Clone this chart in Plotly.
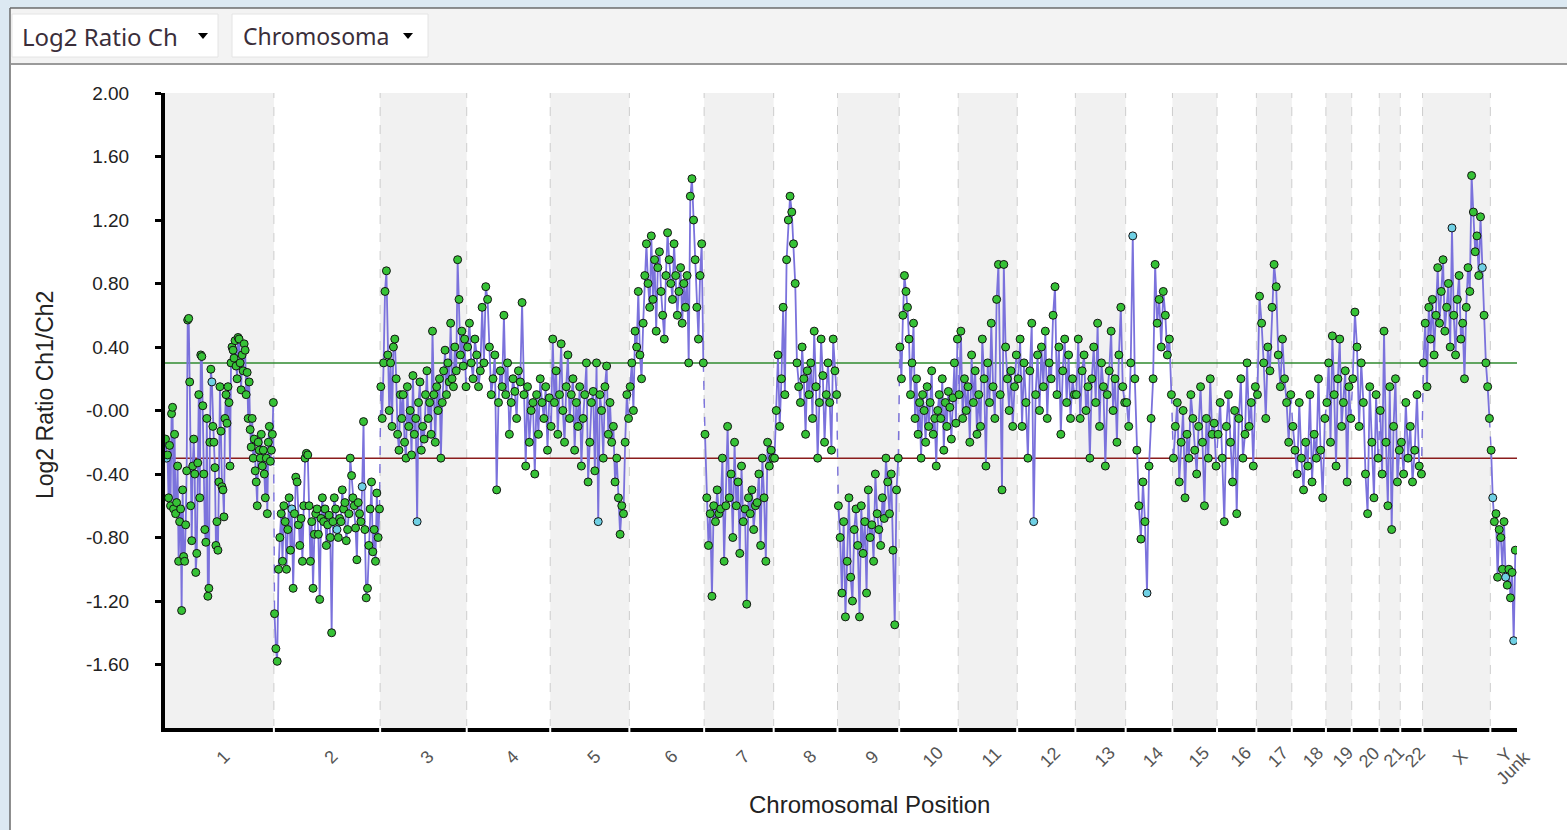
import plotly.graph_objects as go

# ---------------- data ----------------
chrom_labels = ["1", "2", "3", "4", "5", "6", "7", "8", "9", "10", "11", "12",
                "13", "14", "15", "16", "17", "18", "19", "20", "21", "22", "X", "Y"]
chrom_sizes_mb = [249, 243, 198, 191, 181, 171, 159, 146, 141, 135, 135, 133,
                  115, 107, 102, 90, 81, 78, 59, 63, 48, 51, 155, 59]
junk_label = "Junk"
junk_size_mb = 2

log2_chr1 = [-0.18, -0.30, -0.28, -0.55, -0.22, -0.60, -0.02, 0.02, -0.62, -0.15, -0.65, -0.58,
             -0.35, -0.95, -0.70, -0.62, -1.26, -0.50, -0.92, -0.95, -0.72,
             -0.38, 0.57, 0.58, 0.18, -0.60, -0.82, -0.35, -0.18, -0.40, -1.02, -0.90, -0.33,
             0.10, -0.55,
             0.35, 0.34, 0.03, -0.40, -0.75, -0.83, -0.05, -1.17, -1.12, -0.20, 0.26, 0.18,
             -0.10, -0.20, -0.36, -0.85, -0.70, -0.88, -0.45,
             0.15, -0.13, -0.48, -0.50, -0.67, -0.05, 0.10, -0.08, 0.15, 0.05, -0.35,
             0.30, 0.40, 0.38, 0.33, 0.44, 0.28, 0.20, 0.46, 0.45, 0.30, 0.13, 0.35, 0.25, 0.42,
             0.38, 0.10, 0.24,
             -0.05, 0.18, -0.12, -0.23, -0.05, -0.30, -0.18, -0.38, -0.45, -0.60, -0.20, -0.25,
             -0.30, -0.15, -0.35, -0.25, -0.40, -0.55, -0.30, -0.65, -0.20, -0.10, -0.32, -0.25,
             -0.15, 0.05]
log2_chr2 = [-1.28, -1.50, -1.58, -1.00, -0.80, -0.65, -0.95, -0.60, -0.70, -1.00, -0.75, -0.55,
             -0.88, -0.62, -1.12, -0.65, -0.42, -0.45, -0.72, -0.85, -0.68, -0.95, -0.60, -0.30,
             -0.27, -0.28, -0.60, -0.95, -0.70, -1.12, -0.78, -0.65, -0.62, -0.78, -1.19, -0.68,
             -0.55, -0.70, -0.62, -0.85, -0.72, -0.66, -0.80, -1.40, -0.70, -0.55, -0.62, -0.75,
             -0.80, -0.68, -0.70, -0.50, -0.62, -0.58, -0.82, -0.75, -0.65, -0.30, -0.41, -0.55,
             -0.60, -0.74, -0.94, -0.58, -0.65, -0.70, -0.48, -0.07, -0.75, -1.18, -1.12, -0.85,
             -0.62, -0.45, -0.89, -0.75, -0.95, -0.52, -0.80, -0.62]
log2_chr3 = [0.15, -0.05, 0.30, 0.75, 0.88, 0.35, 0.00, 0.30, -0.10, 0.40, 0.45, 0.20, -0.15,
             -0.25, 0.10, -0.05, 0.10, -0.20, -0.30, 0.15, -0.10, 0.00, -0.28, 0.22, -0.15,
             -0.05, -0.70, 0.05, 0.18, -0.25, -0.10, -0.18, 0.10, 0.25, -0.05, 0.05, -0.15, 0.50,
             0.10, -0.20, 0.15, 0.00, 0.20, -0.30, 0.05, 0.25, 0.38, 0.10, 0.30, 0.18, 0.55,
             0.20, 0.15, 0.40, 0.25, 0.95, 0.70, 0.35, 0.50, 0.28, 0.45, 0.15]
log2_chr4 = [0.40, 0.55, 0.30, 0.20, 0.45, 0.35, 0.15, 0.25, 0.65, 0.30, 0.78, 0.70, 0.40, 0.10,
             0.20, 0.35, -0.50, 0.05, 0.25, 0.15, 0.60, 0.10, 0.30, -0.15, 0.05, 0.20, 0.12,
             -0.05, 0.25, 0.18, 0.68, 0.10, -0.35, 0.15, -0.20, 0.00, 0.05, -0.40, 0.10, -0.15,
             0.20, 0.05, -0.05, 0.15, -0.25, 0.08]
log2_chr5 = [-0.10, 0.45, 0.05, 0.25, -0.15, 0.10, 0.42, 0.00, -0.20, 0.15, 0.35, -0.05, 0.10,
             0.20, -0.25, 0.05, -0.10, 0.15, -0.35, -0.05, 0.10, 0.30, -0.45, -0.20, 0.05, 0.12,
             -0.38, 0.30, -0.70, 0.10, 0.00, -0.30, 0.15, 0.28, -0.15, 0.05, -0.20, -0.10,
             -0.45, -0.30, -0.55, -0.78, -0.60, -0.65, -0.20, 0.10, -0.05]
log2_chr6 = [0.15, 0.30, 0.00, 0.50, 0.40, 0.75, 0.35, 0.20, 0.55, 0.85, 1.05, 0.80, 0.65, 1.10,
             0.70, 0.95, 0.50, 0.90, 1.00, 0.75, 0.60, 0.45, 0.85, 1.12, 0.95, 0.80, 0.70, 1.05,
             0.85, 0.60, 0.75, 0.90, 0.55, 0.80, 0.65, 0.85, 0.30, 1.35, 1.46, 1.20, 0.95, 0.65,
             0.45, 0.85, 1.05, 0.30]
log2_chr7 = [-0.15, -0.55, -0.85, -0.65, -1.17, -0.60, -0.70, -0.50, -0.65, -0.62, -0.30, -0.95,
             -0.60, -0.10, -0.55, -0.40, -0.80, -0.20, -0.60, -0.45, -0.90, -0.35, -0.70, -0.62,
             -1.22, -0.55, -0.65, -0.50, -0.75, -0.60, -0.58, -0.40, -0.85, -0.30, -0.55, -0.95,
             -0.20, -0.35, -0.25, -0.30]
log2_chr8 = [-0.30, 0.00, 0.35, -0.10, 0.20, 0.65, 0.10, 0.95, 1.20, 1.35, 1.25, 1.05, 0.80,
             0.30, 0.15, 0.05, 0.40, 0.20, -0.15, 0.25, 0.10, 0.30, -0.05, 0.50, 0.15, -0.30,
             0.05, 0.45, 0.22, -0.20, 0.10, 0.30, 0.05, -0.25, 0.45, 0.25, 0.10]
log2_chr9 = [-0.60, -0.80, -1.15, -0.70, -1.30, -0.95, -0.55, -1.05, -1.20, -0.75, -0.62, -0.85,
             -1.30, -0.60, -0.90, -0.70, -1.15, -0.50, -0.80, -0.72, -0.95, -0.40, -0.65, -0.75,
             -0.85, -0.55, -0.68, -0.30, -0.45, -0.65, -0.40, -0.88, -1.35, -0.50, -0.30]
log2_chr10 = [0.40, 0.20, 0.60, 0.85, 0.75, 0.65, 0.45, 0.10, 0.30, 0.55, -0.05, 0.20, -0.15,
              0.05, -0.30, 0.10, 0.00, -0.20, 0.15, -0.10, 0.05, 0.25, -0.15, -0.05, -0.35,
              0.00, 0.10, -0.05, 0.20, -0.25, 0.05, -0.10, 0.12, 0.02, -0.18, 0.08, 0.30,
              -0.08, 0.45]
log2_chr11 = [0.10, 0.50, -0.05, 0.20, 0.00, 0.15, -0.20, 0.35, 0.05, 0.25, -0.15, 0.10, -0.10,
              0.45, 0.20, -0.35, 0.30, 0.05, 0.55, 0.15, -0.05, 0.70, 0.92, 0.10, -0.50, 0.92,
              0.40, 0.20, 0.00, 0.25, -0.10, 0.15, 0.35]
log2_chr12 = [0.20, 0.45, -0.10, 0.30, 0.05, -0.30, 0.25, 0.55, -0.70, 0.10, 0.35, 0.00, 0.40,
              0.15, 0.50, -0.05, 0.30, 0.20, 0.60, 0.78, 0.10, 0.40, -0.15, 0.25, 0.45, 0.05,
              0.35, -0.05, 0.20, 0.10]
log2_chr13 = [0.10, 0.45, -0.05, 0.25, 0.35, 0.00, 0.15, -0.30, 0.20, 0.40, 0.05, 0.55, -0.10,
              0.30, 0.15, -0.35, 0.10, 0.25, 0.50, 0.00, 0.20, -0.20, 0.35, 0.65, 0.15, 0.05]
log2_chr14 = [0.05, -0.10, 0.30, 1.10, 0.20, -0.25, -0.60, -0.81, -0.45, -0.70, -1.15, -0.35,
              -0.05, 0.20, 0.92, 0.55, 0.70, 0.40, 0.75, 0.60, 0.35, 0.45, 0.10]
log2_chr15 = [-0.30, -0.10, 0.05, -0.45, -0.20, 0.00, -0.55, -0.15, -0.30, 0.10, -0.05, -0.25,
              -0.40, -0.10, 0.15, -0.20, -0.60, -0.05, -0.30, 0.20, -0.15, -0.08, -0.35]
log2_chr16 = [-0.15, 0.05, -0.30, -0.70, -0.10, 0.10, -0.20, -0.45, 0.00, -0.65, -0.05, 0.20,
              -0.30, -0.15, 0.30, -0.10, 0.05, -0.35, 0.15]
log2_chr17 = [0.10, 0.72, 0.55, 0.30, -0.05, 0.40, 0.25, 0.65, 0.92, 0.78, 0.35, 0.15, 0.45,
              0.20, 0.05, -0.20, 0.10]
log2_chr18 = [-0.10, -0.25, -0.40, 0.05, -0.30, -0.50, -0.20, -0.35, 0.10, -0.45, -0.15, -0.30,
              0.20, -0.25, -0.55, -0.05]
log2_chr19 = [0.05, 0.30, -0.20, 0.47, 0.10, -0.35, 0.20, 0.45, -0.10, 0.05, 0.25, -0.45, 0.15,
              -0.05]
log2_chr20 = [0.20, 0.62, 0.40, -0.10, 0.30, 0.05, -0.40, -0.65, 0.15, -0.20, -0.55, 0.10, -0.30]
log2_chr21 = [0.00, -0.40, 0.50, -0.20, -0.60, 0.15, -0.75, -0.10, 0.20, -0.45, -0.25]
log2_chr22 = [-0.20, -0.40, 0.05, -0.30, -0.10, -0.45, -0.25, 0.10, -0.35, -0.40]
log2_chrX = [0.30, 0.55, 0.15, 0.65, 0.45, 0.70, 0.35, 0.60, 0.90, 0.55, 0.75, 0.95, 0.50, 0.65,
             0.80, 0.40, 1.15, 0.60, 0.35, 0.70, 0.85, 0.45, 0.55, 0.20, 0.65, 0.90, 0.75, 1.48,
             1.25, 1.00, 1.10, 0.85, 1.22, 0.90, 0.60, 0.30, 0.15, -0.05]
log2_chrY = [-0.25, -0.55, -0.70, -0.65, -1.05, -0.75, -0.80, -1.00, -0.70, -1.05, -1.10, -1.00,
             -1.18, -1.02, -1.45, -0.88]

log2_by_chrom = [log2_chr1, log2_chr2, log2_chr3, log2_chr4, log2_chr5, log2_chr6, log2_chr7,
                 log2_chr8, log2_chr9, log2_chr10, log2_chr11, log2_chr12, log2_chr13,
                 log2_chr14, log2_chr15, log2_chr16, log2_chr17, log2_chr18, log2_chr19,
                 log2_chr20, log2_chr21, log2_chr22, log2_chrX, log2_chrY]

# indices of probes drawn in cyan instead of green
cyan_points = [[1, 46, 117], [13, 47, 66], [26], [], [28], [], [40], [], [], [], [], [8], [],
               [3, 10], [], [], [], [], [], [], [], [], [16, 33], [1, 9, 14]]

gain_threshold = 0.3
loss_threshold = -0.3

y_tick_vals = [2.0, 1.6, 1.2, 0.8, 0.4, 0.0, -0.4, -0.8, -1.2, -1.6]
y_tick_text = ["2.00", "1.60", "1.20", "0.80", "0.40", "-0.00", "-0.40", "-0.80", "-1.20", "-1.60"]

# ---------------- geometry helpers (pixel layout of the window) ----------------
W, H = 1567, 830
L, R, T, B = 165, 1517, 93, 728


def px(x):
    return (x - L) / (R - L)


def py(y):
    return (B - y) / (B - T)


# ---------------- build traces ----------------
offsets = []
acc = 0
for s in chrom_sizes_mb:
    offsets.append(acc)
    acc += s
genome_end = acc + junk_size_mb

line_x, line_y = [], []
mk_x, mk_y, mk_c = [], [], []
conn_x, conn_y = [], []
prev_last = None
for ci, vals in enumerate(log2_by_chrom):
    n = len(vals)
    xs = [offsets[ci] + (j + 0.5) / n * chrom_sizes_mb[ci] for j in range(n)]
    line_x += xs + [None]
    line_y += vals + [None]
    mk_x += xs
    mk_y += vals
    mk_c += ["#6fd0e4" if j in cyan_points[ci] else "#36c236" for j in range(n)]
    if prev_last is not None:
        conn_x += [prev_last[0], xs[0], None]
        conn_y += [prev_last[1], vals[0], None]
    prev_last = (xs[-1], vals[-1])

fig = go.Figure()
fig.add_trace(go.Scatter(x=line_x, y=line_y, mode="lines",
                         line=dict(color="#7b72dc", width=1.8), hoverinfo="skip",
                         showlegend=False))
fig.add_trace(go.Scatter(x=conn_x, y=conn_y, mode="lines",
                         line=dict(color="#7b72dc", width=1.4, dash="dash"), hoverinfo="skip",
                         showlegend=False))
fig.add_trace(go.Scatter(x=mk_x, y=mk_y, mode="markers",
                         marker=dict(size=8, color=mk_c, line=dict(color="#141414", width=1)),
                         showlegend=False))

shapes = []
# window chrome
shapes.append(dict(type="rect", xref="paper", yref="paper", x0=px(10), x1=px(W + 10),
                   y0=py(H + 10), y1=py(8), fillcolor="white", line=dict(width=0), layer="below"))
shapes.append(dict(type="rect", xref="paper", yref="paper", x0=px(11), x1=px(W + 10),
                   y0=py(64), y1=py(9), fillcolor="#f3f3f3", line=dict(width=0), layer="below"))
shapes.append(dict(type="line", xref="paper", yref="paper", x0=px(11), x1=px(W + 10),
                   y0=py(64), y1=py(64), line=dict(color="#9a9a9a", width=2), layer="below"))
shapes.append(dict(type="line", xref="paper", yref="paper", x0=px(10), x1=px(10),
                   y0=py(H + 10), y1=py(8), line=dict(color="#6a6a6a", width=1.5), layer="below"))
shapes.append(dict(type="line", xref="paper", yref="paper", x0=px(10), x1=px(W + 10),
                   y0=py(8), y1=py(8), line=dict(color="#6a6a6a", width=1.5), layer="below"))
for bx0, bx1 in [(12, 218), (232, 428)]:
    shapes.append(dict(type="rect", xref="paper", yref="paper", x0=px(bx0), x1=px(bx1),
                       y0=py(57), y1=py(14), fillcolor="white",
                       line=dict(color="#e4e4e4", width=1), layer="below"))
for ax in [203, 408]:
    shapes.append(dict(type="path", xref="paper", yref="paper",
                       path="M %f %f L %f %f L %f %f Z" % (px(ax - 5), py(33), px(ax + 5), py(33),
                                                         px(ax), py(39)),
                       fillcolor="black", line=dict(width=0), layer="below"))

# chromosome bands
for ci in range(len(chrom_sizes_mb)):
    if ci % 2 == 0:
        shapes.append(dict(type="rect", xref="x", yref="paper", x0=offsets[ci],
                           x1=offsets[ci] + chrom_sizes_mb[ci], y0=0, y1=1,
                           fillcolor="#f1f1f1", line=dict(width=0), layer="below"))
for ci in range(1, len(chrom_sizes_mb)):
    shapes.append(dict(type="line", xref="x", yref="paper", x0=offsets[ci], x1=offsets[ci],
                       y0=0, y1=1, line=dict(color="#cdcdcd", width=1, dash="dash"),
                       layer="below"))
# thresholds
shapes.append(dict(type="line", xref="paper", yref="y", x0=0, x1=1, y0=gain_threshold,
                   y1=gain_threshold, line=dict(color="#2f8a2f", width=1.5), layer="below"))
shapes.append(dict(type="line", xref="paper", yref="y", x0=0, x1=1, y0=loss_threshold,
                   y1=loss_threshold, line=dict(color="#8a1c1c", width=1.5), layer="below"))
# gaps in x-axis line at chromosome borders
for ci in range(1, len(chrom_sizes_mb)):
    shapes.append(dict(type="line", xref="x", yref="paper", x0=offsets[ci], x1=offsets[ci],
                       y0=py(733), y1=py(726), line=dict(color="white", width=2), layer="above"))

annotations = []
annotations.append(dict(text="Log2 Ratio Ch", xref="paper", yref="paper", x=px(20), y=py(36),
                        xanchor="left", yanchor="middle", showarrow=False,
                        font=dict(family="Noto Sans", size=24, color="#3a2e3a")))
annotations.append(dict(text="Chromosoma", xref="paper", yref="paper", x=px(241), y=py(36),
                        xanchor="left", yanchor="middle", showarrow=False,
                        font=dict(family="Noto Sans", size=23, color="#3a2e3a")))
annotations.append(dict(text="Log2 Ratio Ch1/Ch2", xref="paper", yref="paper", x=px(45),
                        y=py(395), textangle=-90, xanchor="center", yanchor="middle",
                        showarrow=False,
                        font=dict(family="Liberation Sans", size=23, color="#222222")))
annotations.append(dict(text="Chromosomal Position", xref="paper", yref="paper", x=px(869),
                        y=py(804), xanchor="center", yanchor="middle", showarrow=False,
                        font=dict(family="Liberation Sans", size=24, color="#222222")))
for ci, lab in enumerate(chrom_labels):
    annotations.append(dict(text=lab, xref="x", yref="paper",
                            x=offsets[ci] + chrom_sizes_mb[ci] / 2, y=0,
                            xshift=4 if lab != "Y" else 2, yshift=-29 if lab != "Y" else -27,
                            textangle=-45, xanchor="center", yanchor="middle", showarrow=False,
                            font=dict(family="Liberation Sans", size=18, color="#555555")))
annotations.append(dict(text=junk_label, xref="x", yref="paper", x=genome_end, y=0,
                        xshift=-4, yshift=-40, textangle=-45, xanchor="center",
                        yanchor="middle", showarrow=False,
                        font=dict(family="Liberation Sans", size=18, color="#555555")))

fig.update_layout(
    width=W, height=H,
    margin=dict(l=L, r=W - R, t=T, b=H - B, pad=0),
    paper_bgcolor="#dce9f2",
    plot_bgcolor="white",
    shapes=shapes,
    annotations=annotations,
    showlegend=False,
    xaxis=dict(range=[0, genome_end], showgrid=False, zeroline=False, showticklabels=False,
               ticks="", showline=True, linecolor="black", linewidth=4, fixedrange=True),
    yaxis=dict(range=[-2, 2], showgrid=False, zeroline=False, tickvals=y_tick_vals,
               ticktext=y_tick_text, ticks="outside", ticklen=6, tickwidth=3,
               tickcolor="black", showline=True, linecolor="black", linewidth=4,
               ticklabelstandoff=22,
               tickfont=dict(family="Liberation Sans", size=19, color="#222222"),
               fixedrange=True),
)

fig.write_html("out.html", config={"displayModeBar": False})
